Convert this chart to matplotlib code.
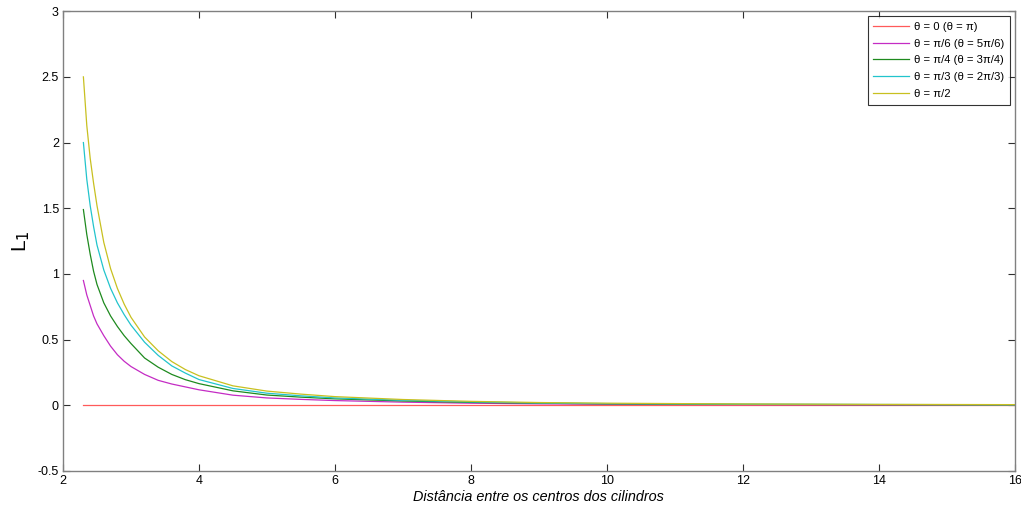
import numpy as np
import matplotlib.pyplot as plt

plt.rcParams['font.family'] = ['Liberation Sans', 'DejaVu Sans']

# values
d = [2.3, 2.35, 2.4, 2.45, 2.5, 2.6, 2.7, 2.8, 2.9, 3.0, 3.2, 3.4, 3.6, 3.8,
     4.0, 4.5, 5.0, 5.5, 6.0, 7.0, 8.0, 9.0, 10.0, 12.0, 14.0, 16.0]
L_pi2 = [2.50, 2.13, 1.88, 1.69, 1.52, 1.24, 1.04, 0.89, 0.77, 0.67, 0.52, 0.415,
         0.333, 0.272, 0.225, 0.148, 0.108, 0.085, 0.066, 0.044, 0.030, 0.021,
         0.016, 0.010, 0.007, 0.005]
L_pi3 = [2.00, 1.72, 1.52, 1.36, 1.22, 1.03, 0.89, 0.78, 0.69, 0.61, 0.48, 0.38,
         0.300, 0.245, 0.196, 0.128, 0.092, 0.072, 0.056, 0.038, 0.026, 0.018,
         0.013, 0.008, 0.006, 0.004]
L_pi4 = [1.49, 1.30, 1.15, 1.02, 0.92, 0.78, 0.68, 0.60, 0.53, 0.47, 0.36, 0.29,
         0.235, 0.195, 0.165, 0.110, 0.078, 0.062, 0.049, 0.033, 0.022, 0.016,
         0.011, 0.007, 0.005, 0.003]
L_pi6 = [0.95, 0.84, 0.76, 0.68, 0.62, 0.53, 0.45, 0.385, 0.335, 0.295, 0.235,
         0.19, 0.162, 0.14, 0.118, 0.077, 0.056, 0.045, 0.036, 0.024, 0.016,
         0.011, 0.008, 0.005, 0.003, 0.002]
L_0 = [0.0] * len(d)

labels = ['θ = 0 (θ = π)', 'θ = π/6 (θ = 5π/6)', 'θ = π/4 (θ = 3π/4)',
          'θ = π/3 (θ = 2π/3)', 'θ = π/2']
colors = ['#ff5a5a', '#c42cc4', '#1e8a1e', '#22c4cc', '#c8c020']

fig = plt.figure(figsize=(10.21, 5.09), dpi=100)
ax = fig.add_axes([0.0617, 0.0747, 0.9323, 0.9033])

for L, lab, c in zip([L_0, L_pi6, L_pi4, L_pi3, L_pi2], labels, colors):
    ax.plot(d, L, color=c, lw=0.9, label=lab)

ax.set_xlim(2, 16)
ax.set_ylim(-0.5, 3)
ax.set_xticks(np.arange(2, 17, 2))
ax.set_yticks(np.arange(-0.5, 3.01, 0.5))
ax.set_yticklabels(['-0.5', '0', '0.5', '1', '1.5', '2', '2.5', '3'])
ax.tick_params(direction='in', top=True, right=True, length=5, width=0.8,
               labelsize=9, color='#303030', pad=3)
for s in ax.spines.values():
    s.set_color('#808080')
    s.set_linewidth(1)

ax.set_xlabel('Distância entre os centros dos cilindros', fontsize=10.4,
              style='italic', labelpad=2)
ax.set_ylabel('L$_1$', fontsize=15)
ax.yaxis.set_label_coords(-0.033, 0.5)

leg = ax.legend(loc='upper right', fontsize=8.1, frameon=True, fancybox=False,
                edgecolor='black', borderaxespad=0.45, handlelength=3.2,
                handletextpad=0.4, labelspacing=0.6, borderpad=0.5)
leg.get_frame().set_linewidth(0.8)

fig.savefig('out.png', dpi=100)
